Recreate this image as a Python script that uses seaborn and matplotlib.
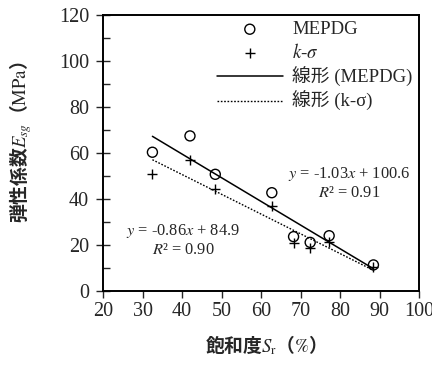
import matplotlib
matplotlib.use("Agg")
import matplotlib.pyplot as plt
import numpy as np
import pandas as pd
import seaborn as sns

# Degree of saturation Sr (%) and resilient modulus Esg (MPa)
saturation = [32.5, 42.0, 48.4, 62.7, 68.2, 72.4, 77.2, 88.4]
esg_mepdg = [60.2, 67.3, 50.6, 42.6, 23.5, 21.0, 23.9, 11.2]
esg_ksigma = [50.6, 56.8, 44.1, 37.0, 20.6, 18.4, 21.3, 10.2]

# Linear trend coefficients (slope, intercept, R^2)
fit_mepdg = (-1.03, 100.6, 0.91)
fit_ksigma = (-0.86, 84.9, 0.90)

x_ticks = [20, 30, 40, 50, 60, 70, 80, 90, 100]
y_ticks = [0, 20, 40, 60, 80, 100, 120]

sns.set_style("white")
plt.rcParams["font.family"] = ["Liberation Serif", "Noto Sans CJK JP"]
plt.rcParams["mathtext.fontset"] = "stix"

df = pd.DataFrame({"Sr": saturation, "MEPDG": esg_mepdg, "ksigma": esg_ksigma})

fig = plt.figure(figsize=(4.32, 3.65), dpi=100)
ax = fig.add_axes([0.2384, 0.2036, 0.7322, 0.7561])

sns.scatterplot(data=df, x="Sr", y="MEPDG", ax=ax, marker="o", s=52,
                facecolor="none", edgecolor="black", linewidth=1.0,
                label="MEPDG", zorder=3)
sns.scatterplot(data=df, x="Sr", y="ksigma", ax=ax, marker="+", s=48,
                color="black", linewidth=1.0, label="$k$-$\\sigma$", zorder=3)

x_line = np.array([min(saturation), max(saturation)])
trend = pd.DataFrame({
    "Sr": x_line,
    "MEPDG": fit_mepdg[0] * x_line + fit_mepdg[1],
    "ksigma": fit_ksigma[0] * x_line + fit_ksigma[1],
})
sns.lineplot(data=trend, x="Sr", y="MEPDG", ax=ax, color="black", lw=1.1,
             label="線形 (MEPDG)", zorder=2)
sns.lineplot(data=trend, x="Sr", y="ksigma", ax=ax, color="black", lw=1.0,
             linestyle=(0, (1.2, 1.2)), label="線形 (k-σ)", zorder=2)

ax.set_xlim(20, 100)
ax.set_ylim(0, 120)
ax.set_xticks(x_ticks)
ax.set_yticks(y_ticks)
ax.set_yticks(np.arange(10, 120, 20), minor=True)
ax.tick_params(axis="x", which="major", direction="out", length=5, width=1.0,
               labelsize=14.5, pad=3, bottom=True)
ax.tick_params(axis="y", which="major", direction="inout", length=10, width=1.0,
               labelsize=14.5, pad=5, left=True)
ax.tick_params(axis="y", which="minor", direction="in", length=5, width=1.0,
               left=True)
for sp in ax.spines.values():
    sp.set_visible(True)
    sp.set_color("black")
    sp.set_linewidth(1.4)

# Axis titles: Japanese in a CJK face, symbols and units set in the math font
cjk = ["Noto Sans CJK JP", "Liberation Serif"]
ax.set_xlabel("")
ax.set_ylabel("")
fig.text(261 / 432, 1 - 345 / 365, "飽和度$S_\\mathrm{r}$（$\\mathrm{\\%}$）",
         ha="center", va="center", fontsize=13.5, fontweight="bold",
         family=cjk)
fig.text(0.047, 0.61, "弾性係数$E_{sg}$（$\\mathrm{MPa}$）", ha="center",
         va="center", rotation=90, fontsize=13.5, fontweight="bold",
         family=cjk)

# Regression equations
def eq_text(fit):
    slope, icpt, r2 = fit
    return f"$y$ = {slope:.2f}$x$ + {icpt:.1f}\n$R$² = {r2:.2f}"

fig.text(349 / 432, 1 - 183 / 365, eq_text(fit_mepdg), ha="center",
         va="center", fontsize=11.8, linespacing=1.2)
fig.text(183 / 432, 1 - 240 / 365, eq_text(fit_ksigma), ha="center",
         va="center", fontsize=11.8, linespacing=1.2)

ax.legend(loc="upper left", bbox_to_anchor=(217 / 432, 1 - 21 / 365),
          bbox_transform=fig.transFigure, frameon=False, fontsize=13.5,
          handlelength=3.5, handletextpad=0.5, labelspacing=0.25,
          borderpad=0, borderaxespad=0)

fig.savefig("out.png", dpi=100)
